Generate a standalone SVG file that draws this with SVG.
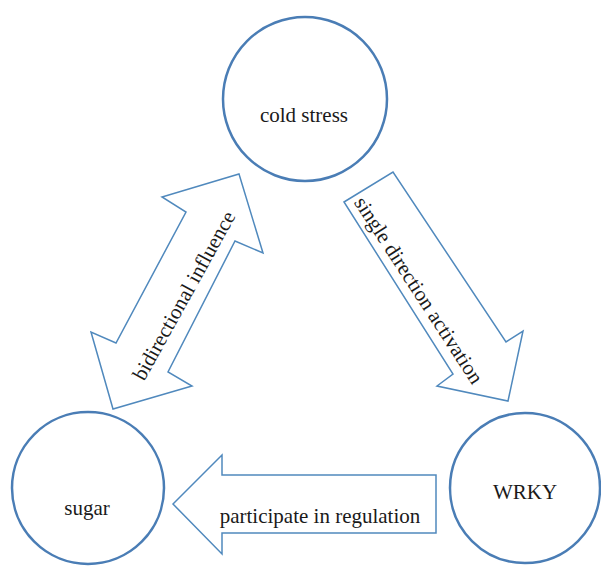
<svg xmlns="http://www.w3.org/2000/svg" width="601" height="568" viewBox="0 0 601 568">
<style>
.node{fill:none;stroke:#4a7db5;stroke-width:2.5}
.arrow{fill:#fff;stroke:#5089bd;stroke-width:1.5;stroke-linejoin:miter}
.lbl{font-family:"Liberation Serif","Times New Roman",serif;font-size:21px;fill:#1a1a1a;text-anchor:middle}
</style>
<rect width="601" height="568" fill="#fff"/>
<g id="connectors">
<g id="bidirectional">
<polygon class="arrow" points="239,174 263,253 235,241 168,372 192,386 113,409 91,332 116,343 186,212 162,197"/>
<text class="lbl" transform="translate(190,299) rotate(-61)">bidirectional influence</text>
</g>
<g id="single-direction">
<polygon class="arrow" points="344,202 393,172 506,342 523,331 508,401 437,386 453,374"/>
<text class="lbl" transform="translate(413,294) rotate(57)">single direction activation</text>
</g>
<g id="participate">
<polygon class="arrow" points="173,504 222,455 222,475 436,475 436,533 222,533 222,554"/>
<text class="lbl" x="320" y="523">participate in regulation</text>
</g>
</g>
<g id="cold-stress">
<circle class="node" cx="305" cy="99" r="82"/>
<text class="lbl" x="304" y="122">cold stress</text>
</g>
<g id="sugar">
<circle class="node" cx="88" cy="488" r="76"/>
<text class="lbl" x="87" y="515">sugar</text>
</g>
<g id="wrky">
<circle class="node" cx="525" cy="488" r="75"/>
<text class="lbl" x="525" y="499">WRKY</text>
</g>
</svg>
